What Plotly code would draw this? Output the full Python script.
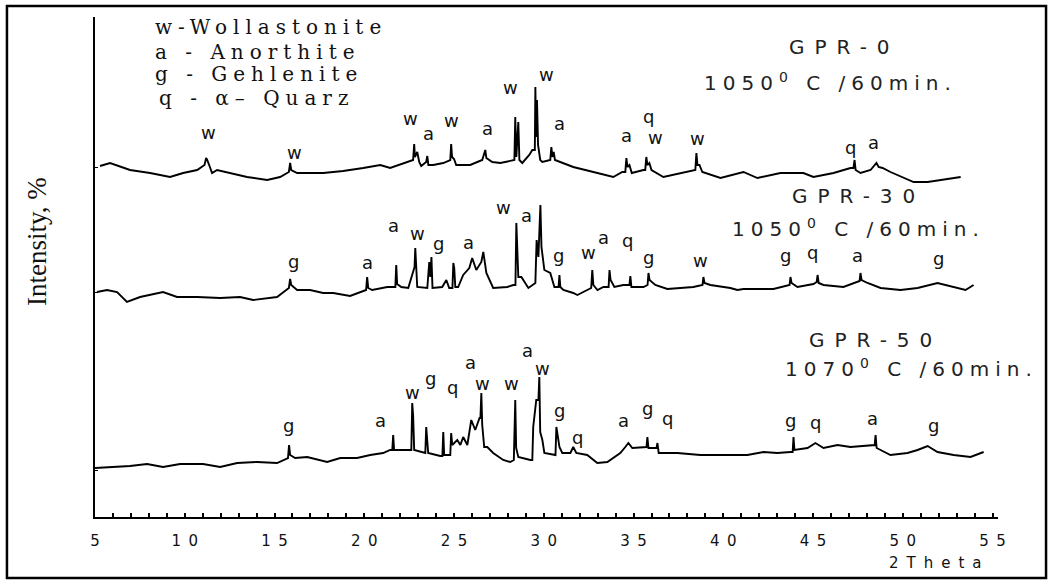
import plotly.graph_objects as go

# ---------------- data (2Theta, intensity in arbitrary stacked units) ----------------
GPR0_2THETA = [5.28, 5.84, 6.95, 8.07, 9.18, 9.91, 10.69, 11.10, 11.19, 11.25, 11.40, 11.52, 11.80, 12.52,
               13.47, 14.59, 15.31, 15.80, 15.87, 15.93, 16.26, 17.71, 18.82, 19.94, 20.89, 21.44, 22.17,
               22.72, 22.78, 22.82, 22.95, 23.06, 23.17, 23.45, 23.51, 23.57, 23.84, 24.40, 24.79, 24.84,
               24.89, 25.00, 25.12, 25.90, 26.57, 26.74, 26.80, 27.13, 27.58, 28.24, 28.36, 28.41, 28.47,
               28.58, 28.64, 28.80, 29.19, 29.36, 29.50, 29.53, 29.57, 29.62, 29.68, 29.80, 29.92, 30.36,
               30.42, 30.48, 30.55, 30.62, 30.92, 31.64, 32.76, 33.87, 34.37, 34.54, 34.60, 34.66, 34.77,
               34.90, 35.55, 35.65, 35.71, 35.77, 35.88, 36.00, 36.66, 37.61, 38.44, 38.50, 38.56, 38.67,
               38.83, 39.84, 41.12, 41.90, 43.18, 44.46, 45.02, 46.14, 47.08, 47.25, 47.31, 47.37, 47.64,
               48.20, 48.45, 48.53, 48.65, 48.87, 49.31, 50.60, 51.38, 53.22]
GPR0_INT = [351, 354, 347, 344, 340, 344, 347, 352, 359, 357, 350, 344, 347, 344,
            340, 337, 340, 345, 354, 347, 344, 344, 346, 349, 352, 349, 354,
            357, 373, 360, 365, 355, 351, 355, 361, 352, 352, 354, 357, 373,
            360, 358, 352, 352, 357, 367, 359, 355, 354, 357, 357, 400, 360,
            395, 357, 354, 362, 367, 367, 430, 380, 417, 372, 357, 355, 357,
            370, 360, 365, 357, 355, 350, 345, 340, 345, 345, 359, 350, 352,
            344, 347, 347, 360, 352, 354, 347, 340, 344, 347, 364, 352, 352,
            345, 339, 345, 339, 344, 344, 340, 344, 349, 349, 357, 347, 344,
            347, 352, 354, 350, 349, 345, 335, 335, 340]

GPR30_2THETA = [5.11, 5.67, 6.23, 6.78, 7.51, 8.79, 9.57, 10.69, 11.97, 13.08, 13.81, 15.14, 15.80, 15.87,
                15.93, 16.26, 16.98, 17.71, 18.27, 19.21, 20.10, 20.16, 20.22, 20.44, 21.28, 21.73, 21.78,
                21.83, 22.06, 22.45, 22.75, 22.80, 22.84, 22.89, 22.95, 23.51, 23.62, 23.68, 23.74, 23.80,
                24.34, 24.57, 24.73, 24.91, 24.96, 25.01, 25.07, 25.23, 25.51, 25.85, 26.01, 26.24, 26.52,
                26.63, 26.80, 27.18, 27.97, 28.30, 28.42, 28.47, 28.52, 28.58, 28.75, 29.14, 29.53, 29.60,
                29.70, 29.81, 29.87, 30.03, 30.36, 30.59, 30.82, 30.87, 30.92, 31.09, 31.64, 31.87, 32.20,
                32.64, 32.70, 32.76, 32.99, 33.32, 33.61, 33.66, 33.72, 33.93, 34.43, 34.77, 34.82, 34.88,
                35.55, 35.78, 35.83, 35.89, 36.21, 36.88, 38.33, 38.84, 38.89, 38.95, 39.28, 40.39, 40.79,
                41.12, 42.79, 43.57, 43.69, 43.74, 43.80, 44.13, 45.02, 45.20, 45.25, 45.31, 45.58, 46.69,
                47.36, 47.59, 47.64, 47.70, 48.03, 48.76, 49.87, 50.82, 51.93, 52.83, 53.49, 53.94]
GPR30_INT = [225, 227, 225, 215, 220, 225, 220, 220, 219, 220, 217, 220, 229, 238,
             232, 227, 227, 224, 224, 221, 227, 240, 229, 227, 230, 230, 252,
             233, 230, 229, 247, 250, 269, 255, 230, 229, 255, 240, 260, 229,
             230, 237, 229, 229, 254, 249, 230, 230, 242, 249, 259, 247, 255,
             265, 244, 229, 230, 232, 232, 294, 267, 240, 240, 229, 234, 277,
             260, 312, 270, 247, 244, 230, 230, 242, 230, 227, 224, 222, 225,
             229, 247, 232, 227, 230, 230, 247, 237, 230, 232, 232, 241, 230,
             230, 232, 244, 237, 232, 228, 230, 232, 240, 234, 232, 229, 227,
             228, 228, 232, 232, 240, 234, 230, 233, 235, 242, 234, 232, 230,
             234, 236, 244, 237, 234, 229, 227, 229, 234, 230, 227, 232]

GPR50_2THETA = [5.00, 6.00, 6.95, 7.90, 8.79, 9.74, 11.02, 11.97, 12.92, 14.03, 15.14, 15.75, 15.81, 15.87,
                16.15, 16.82, 17.93, 18.66, 19.60, 20.33, 21.05, 21.44, 21.56, 21.61, 21.66, 22.45, 22.62,
                22.67, 22.72, 22.78, 23.28, 23.40, 23.45, 23.50, 23.56, 24.23, 24.35, 24.40, 24.45, 24.79,
                24.84, 24.90, 25.18, 25.35, 25.51, 25.74, 25.96, 26.18, 26.42, 26.47, 26.52, 26.57, 26.68,
                26.85, 27.18, 27.74, 28.13, 28.33, 28.36, 28.41, 28.46, 28.58, 29.25, 29.36, 29.41, 29.58,
                29.70, 29.75, 29.80, 29.92, 30.03, 30.53, 30.65, 30.70, 30.76, 30.87, 31.03, 31.48, 31.64,
                31.81, 32.42, 32.98, 33.54, 34.26, 34.54, 34.71, 34.93, 35.55, 35.72, 35.77, 35.83, 36.28,
                36.33, 36.40, 37.44, 38.72, 40.23, 41.34, 42.24, 43.01, 43.74, 43.86, 43.91, 43.96, 44.69,
                45.13, 45.58, 46.36, 47.08, 48.20, 48.43, 48.48, 48.54, 48.76, 49.31, 50.26, 50.82, 51.38,
                51.93, 52.83, 53.77, 54.50]
GPR50_INT = [49, 50, 51, 53, 50, 53, 53, 50, 54, 55, 54, 59, 72, 62,
             59, 60, 55, 59, 59, 62, 64, 67, 67, 82, 67, 67, 67,
             114, 102, 67, 64, 64, 90, 77, 64, 61, 61, 85, 62, 62,
             84, 72, 77, 72, 80, 72, 97, 87, 99, 99, 124, 92, 70,
             70, 64, 57, 55, 57, 87, 117, 69, 60, 57, 57, 90, 117,
             117, 140, 85, 77, 64, 62, 62, 90, 82, 70, 64, 64, 70,
             64, 62, 54, 55, 64, 70, 74, 69, 70, 70, 80, 69, 69,
             74, 64, 64, 62, 62, 62, 65, 64, 65, 65, 80, 67, 69,
             74, 69, 72, 70, 72, 72, 82, 69, 67, 62, 64, 67, 71,
             65, 62, 60, 65]

# peak phase labels (2Theta, intensity level, phase letter)
GPR0_PEAK_X = [11.30, 16.09, 22.56, 23.56, 24.84, 26.85, 28.13, 30.14, 30.86, 34.60, 35.82, 36.21, 38.56, 47.08, 48.37]
GPR0_PEAK_Y = [385, 365, 399, 384, 397, 389, 430, 443, 394, 382, 401, 380, 379, 370, 375]
GPR0_PEAK_T = ["w", "w", "w", "a", "w", "a", "w", "w", "a", "a", "q", "w", "w", "q", "a"]

GPR30_PEAK_X = [16.04, 20.16, 21.61, 22.95, 24.12, 25.79, 27.74, 29.02, 30.81, 32.48, 33.32, 34.65, 35.83, 38.72, 43.46, 44.97, 47.47, 51.99]
GPR30_PEAK_Y = [256, 255, 292, 284, 274, 275, 310, 302, 262, 265, 280, 277, 260, 257, 262, 265, 262, 259]
GPR30_PEAK_T = ["g", "a", "a", "w", "g", "a", "w", "a", "g", "w", "a", "q", "g", "w", "g", "q", "a", "g"]

GPR50_PEAK_X = [15.76, 20.89, 22.67, 23.67, 24.90, 25.90, 26.57, 28.19, 29.08, 29.92, 30.86, 31.87, 34.43, 35.77, 36.88, 43.74, 45.13, 48.31, 51.71]
GPR50_PEAK_Y = [92, 97, 125, 139, 130, 155, 134, 134, 167, 149, 107, 80, 97, 109, 99, 97, 95, 99, 92]
GPR50_PEAK_T = ["g", "a", "w", "g", "q", "a", "w", "w", "a", "w", "g", "q", "a", "g", "q", "g", "q", "a", "g"]

LEGEND_LINES = ["w-Wollastonite", "a - Anorthite", "g - Gehlenite", "q - \u03b1\u2013 Quarz"]
SAMPLE_NAMES = ["GPR-0", "GPR-30", "GPR-50"]
SAMPLE_TEMPS = ["1050", "1050", "1070"]
XTICKS = [5, 10, 15, 20, 25, 30, 35, 40, 45, 50, 55]

# ---------------- figure ----------------
fig = go.Figure()
for xs, ys in [(GPR0_2THETA, GPR0_INT), (GPR30_2THETA, GPR30_INT), (GPR50_2THETA, GPR50_INT)]:
    fig.add_trace(go.Scatter(x=xs, y=ys, mode="lines", line=dict(color="black", width=1.9),
                             showlegend=False, hoverinfo="skip"))

ann = []
LBL_FONT = dict(family="DejaVu Sans", size=18, color="#111")
for px, py, pt in [(GPR0_PEAK_X, GPR0_PEAK_Y, GPR0_PEAK_T), (GPR30_PEAK_X, GPR30_PEAK_Y, GPR30_PEAK_T),
                   (GPR50_PEAK_X, GPR50_PEAK_Y, GPR50_PEAK_T)]:
    for x, y, t in zip(px, py, pt):
        ann.append(dict(x=x, y=y, xref="x", yref="y", text=t, showarrow=False, font=LBL_FONT,
                        xanchor="center", yanchor="middle"))

# phase legend (serif)
leg_pos = [(0.0642, 0.980), (0.0642, 0.930), (0.0642, 0.886), (0.0687, 0.838)]
for (lx, ly), t in zip(leg_pos, LEGEND_LINES):
    ann.append(dict(x=lx, y=ly, xref="paper", yref="paper", xanchor="left", yanchor="middle",
                    text=f'<span style="letter-spacing:6px">{t}</span>', showarrow=False,
                    font=dict(family="DejaVu Serif", size=20, color="#111")))

# sample labels
name_pos = [(0.7663, 0.940), (0.7697, 0.642), (0.7885, 0.354)]
temp_pos = [(0.6722, 0.870), (0.7032, 0.578), (0.7619, 0.298)]
SFONT = dict(family="DejaVu Sans", size=20, color="#222")
for (nx, ny), (tx, ty), nm, tp in zip(name_pos, temp_pos, SAMPLE_NAMES, SAMPLE_TEMPS):
    ann.append(dict(x=nx, y=ny, xref="paper", yref="paper", xanchor="left", yanchor="middle",
                    text=f'<span style="letter-spacing:10px">{nm}</span>', showarrow=False, font=SFONT))
    ann.append(dict(x=tx, y=ty, xref="paper", yref="paper", xanchor="left", yanchor="middle",
                    text=f'<span style="letter-spacing:6px">{tp}<sup>0</sup> C /60min.</span>',
                    showarrow=False, font=SFONT))

# axis titles
ann.append(dict(x=0.877, y=-0.092, xref="paper", yref="paper", xanchor="left", yanchor="middle",
                text='<span style="letter-spacing:8px">2Theta</span>', showarrow=False,
                font=dict(family="DejaVu Sans", size=15, color="#111")))
ann.append(dict(x=-0.0642, y=0.55, xref="paper", yref="paper", xanchor="center", yanchor="middle",
                text="Intensity, %", textangle=-90, showarrow=False,
                font=dict(family="Liberation Serif", size=27, color="#111")))

fig.update_layout(
    width=1051, height=582,
    margin=dict(l=95, r=53, t=17, b=65),
    paper_bgcolor="white", plot_bgcolor="white",
    annotations=ann,
    shapes=[dict(type="rect", xref="paper", yref="paper", x0=-0.0975, x1=1.0532, y0=-0.122, y1=1.022,
                 line=dict(color="black", width=2.5), fillcolor="rgba(0,0,0,0)")],
    xaxis=dict(range=[5, 55.3], showgrid=False, zeroline=False, showline=True, linecolor="black",
               linewidth=2, ticks="inside", ticklen=4, tickwidth=1.5, tickcolor="black",
               tickvals=XTICKS, ticktext=["\u2002".join(str(v)) for v in XTICKS],
               ticklabelstandoff=9,
               minor=dict(dtick=1, ticks="inside", ticklen=4, tickwidth=1.5, tickcolor="black"),
               tickfont=dict(family="DejaVu Sans", size=15, color="#111")),
    yaxis=dict(range=[0, 500], showgrid=False, zeroline=False, showline=True, linecolor="black",
               linewidth=2, ticks="inside", ticklen=3, tickcolor="black", tickvals=[47, 225, 350],
               showticklabels=False),
)

fig.write_html("out.html")
